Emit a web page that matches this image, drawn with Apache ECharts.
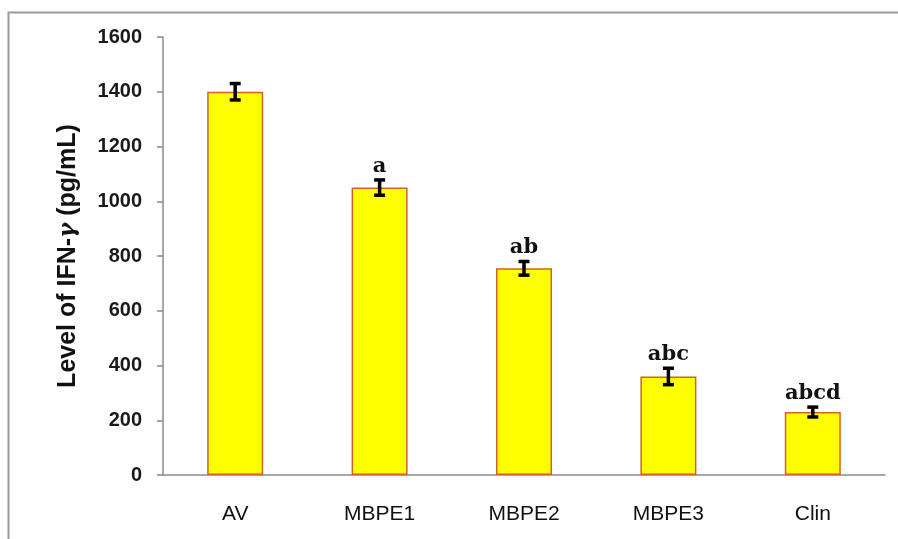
<!DOCTYPE html>
<html>
<head>
<meta charset="utf-8">
<script src="https://cdn.jsdelivr.net/npm/echarts@6/dist/echarts.min.js"></script>
<style>
  html, body { margin: 0; padding: 0; background: #fff; }
  #chart { width: 898px; height: 539px; }
</style>
</head>
<body>
<div id="chart"></div>
<script>
// Groups and measured IFN-γ levels (pg/mL), mean ± error
const groups = ['AV', 'MBPE1', 'MBPE2', 'MBPE3', 'Clin'];
const meanLevels = [1400, 1050, 755, 360, 230];
const errors = [30, 28, 25, 30, 18];
const significance = ['', 'a', 'ab', 'abc', 'abcd'];
const yTicks = [0, 200, 400, 600, 800, 1000, 1200, 1400, 1600];

const chart = echarts.init(document.getElementById('chart'));

const errorData = groups.map((g, i) => [i, meanLevels[i], errors[i], significance[i]]);

chart.setOption({
  animation: false,
  backgroundColor: '#ffffff',
  graphic: [{
    type: 'rect',
    shape: { x: 8.5, y: 12.5, width: 1000, height: 1000 },
    style: { fill: 'none', stroke: '#9a9a9a', lineWidth: 2 },
    silent: true
  }],
  grid: { left: 163, right: 13, top: 37, bottom: 64 },
  xAxis: {
    type: 'category',
    data: groups,
    axisLine: { show: true, lineStyle: { color: '#8c8c8c', width: 1.5 } },
    axisTick: { show: false },
    axisLabel: {
      margin: 29,
      color: '#111',
      fontFamily: 'Liberation Sans, Arial, sans-serif',
      fontSize: 21
    }
  },
  yAxis: {
    type: 'value',
    min: yTicks[0],
    max: yTicks[yTicks.length - 1],
    interval: 200,
    name: '{t|Level of IFN-}{g|γ}{t| (pg/mL)}',
    nameLocation: 'middle',
    nameGap: 82,
    nameRotate: 90,
    nameTextStyle: {
      rich: {
        t: { fontFamily: 'Liberation Sans, Arial, sans-serif', fontWeight: 'bold', fontSize: 25, color: '#111' },
        g: { fontFamily: 'DejaVu Serif, serif', fontStyle: 'italic', fontWeight: 'bold', fontSize: 23, color: '#111' }
      }
    },
    axisLine: { show: true, lineStyle: { color: '#8c8c8c', width: 1.5 } },
    axisTick: { show: true, inside: false, length: 6, lineStyle: { color: '#8c8c8c', width: 1.5 } },
    splitLine: { show: false },
    axisLabel: {
      margin: 21,
      color: '#1a1a1a',
      fontFamily: 'Liberation Sans, Arial, sans-serif',
      fontWeight: 'bold',
      fontSize: 20,
      formatter: function (v) { return String(v); }
    }
  },
  series: [
    {
      type: 'bar',
      data: meanLevels,
      barWidth: 56,
      itemStyle: { color: '#ffff00', borderColor: '#d2602c', borderWidth: 1.5 }
    },
    {
      type: 'custom',
      data: errorData,
      z: 10,
      renderItem: function (params, api) {
        const x = api.value(0);
        const mean = api.value(1);
        const err = api.value(2);
        const label = api.value(3);
        const hi = api.coord([x, mean + err]);
        const lo = api.coord([x, mean - err]);
        const cap = 5.5;
        const style = { stroke: '#000', lineWidth: 3.5 };
        const children = [
          { type: 'line', shape: { x1: hi[0], y1: hi[1], x2: lo[0], y2: lo[1] }, style: style },
          { type: 'line', shape: { x1: hi[0] - cap, y1: hi[1], x2: hi[0] + cap, y2: hi[1] }, style: style },
          { type: 'line', shape: { x1: lo[0] - cap, y1: lo[1], x2: lo[0] + cap, y2: lo[1] }, style: style }
        ];
        if (label) {
          children.push({
            type: 'text',
            style: {
              x: hi[0], y: hi[1] - 3,
              text: label,
              align: 'center',
              verticalAlign: 'bottom',
              fill: '#111',
              font: 'bold 21px "DejaVu Serif", serif'
            }
          });
        }
        return { type: 'group', children: children };
      }
    }
  ]
});
</script>
</body>
</html>
